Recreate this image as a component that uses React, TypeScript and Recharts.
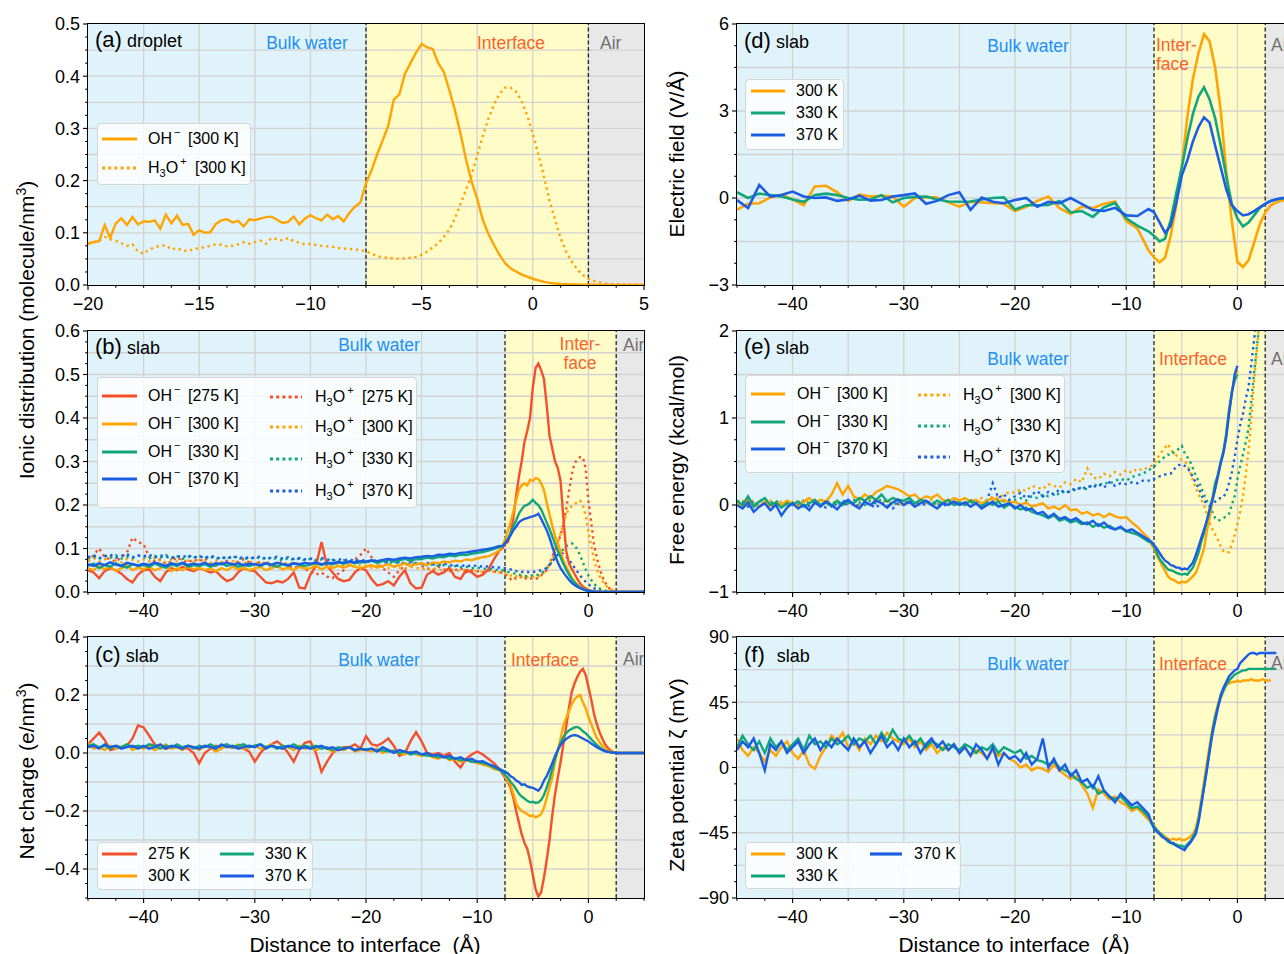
import React from 'react';
import { LineChart, Line, XAxis, YAxis, ReferenceArea, ReferenceLine } from 'recharts';

const RED = '#f4502c';
const ORANGE = '#ffa400';
const GREEN = '#12a77a';
const BLUE = '#1b5ee4';
const BULK_BG = '#e0f3fa';
const IFACE_BG = '#fffcc8';
const AIR_BG = '#e8e8e8';
const GRID = '#d2d2d2';
const BULK_TXT = '#1e8ff5';
const IFACE_TXT = '#f9632a';
const AIR_TXT = '#707070';
const FONT = '"Liberation Sans", Arial, Helvetica, sans-serif';

const seq = (start: number, step: number, n: number) =>
  Array.from({ length: n }, (_, i) => +(start + i * step).toFixed(6));

// sample positions (Å)
const DROP_X = seq(-20, 0.25, 101);
const SLAB_X = [...seq(-45, 0.5, 75), ...seq(-7.75, 0.25, 52)];
const FIELD_X = [...seq(-45, 1, 38), ...seq(-7.5, 0.5, 26)];

// ---------- (a) droplet, ionic distribution ----------
const DROP_OH_300 = [
  0.080, 0.082, 0.084, 0.115, 0.090, 0.118, 0.128, 0.115, 0.130, 0.116, 0.122, 0.121,
  0.124, 0.108, 0.135, 0.118, 0.133, 0.115, 0.117, 0.096, 0.105, 0.100, 0.101, 0.117,
  0.124, 0.126, 0.120, 0.123, 0.112, 0.126, 0.124, 0.127, 0.130, 0.131, 0.125, 0.119,
  0.121, 0.131, 0.116, 0.127, 0.134, 0.128, 0.124, 0.135, 0.126, 0.132, 0.122, 0.138,
  0.150, 0.158, 0.195, 0.220, 0.250, 0.277, 0.305, 0.355, 0.365, 0.405, 0.425, 0.445,
  0.462, 0.455, 0.452, 0.425, 0.408, 0.373, 0.335, 0.290, 0.240, 0.198, 0.165, 0.125,
  0.098, 0.077, 0.058, 0.042, 0.032, 0.026, 0.020, 0.016, 0.012, 0.009, 0.006, 0.004,
  0.003, 0.002, 0.0015, 0.001, 0.001, 0.0008, 0.0005, 0.0004, 0.0003, 0.0002, 0.0001, 0.0001,
  0, 0, 0, 0, 0,
];
const DROP_H3O_300 = [
  0.078, 0.082, 0.085, 0.092, 0.088, 0.085, 0.080, 0.075, 0.078, 0.064, 0.060, 0.068,
  0.072, 0.075, 0.076, 0.068, 0.071, 0.066, 0.065, 0.069, 0.070, 0.073, 0.075, 0.078,
  0.077, 0.074, 0.075, 0.078, 0.082, 0.079, 0.082, 0.085, 0.079, 0.090, 0.088, 0.085,
  0.090, 0.084, 0.081, 0.078, 0.079, 0.077, 0.075, 0.074, 0.073, 0.071, 0.070, 0.069,
  0.068, 0.067, 0.064, 0.060, 0.055, 0.053, 0.052, 0.051, 0.050, 0.051, 0.052, 0.054,
  0.058, 0.064, 0.072, 0.080, 0.092, 0.106, 0.128, 0.155, 0.183, 0.210, 0.248, 0.285,
  0.318, 0.345, 0.366, 0.378, 0.378, 0.370, 0.352, 0.325, 0.290, 0.250, 0.208, 0.162,
  0.125, 0.090, 0.064, 0.045, 0.030, 0.019, 0.012, 0.008, 0.005, 0.003, 0.002, 0.0015,
  0.001, 0.001, 0.0005, 0.0005, 0,
];

// ---------- (b) slab, ionic distribution ----------
const SLAB_OH_275 = [
  0.05, 0.045, 0.032, 0.048, 0.055, 0.05, 0.042, 0.03, 0.022, 0.04,
  0.05, 0.052, 0.035, 0.025, 0.045, 0.055, 0.05, 0.058, 0.052, 0.048,
  0.055, 0.05, 0.045, 0.048, 0.035, 0.025, 0.03, 0.045, 0.055, 0.05,
  0.048, 0.035, 0.022, 0.02, 0.025, 0.022, 0.03, 0.045, 0.01, 0.008,
  0.04, 0.06, 0.115, 0.06, 0.045, 0.03, 0.025, 0.028, 0.045, 0.055,
  0.05, 0.03, 0.015, 0.018, 0.025, 0.015, 0.035, 0.05, 0.02, 0.008,
  0.01, 0.04, 0.048, 0.04, 0.045, 0.055, 0.035, 0.03, 0.05, 0.045,
  0.035, 0.04, 0.052, 0.075, 0.095,
  0.10, 0.11, 0.115,
  0.135, 0.17, 0.22, 0.265,
  0.30, 0.345, 0.37, 0.40,
  0.47, 0.515, 0.525, 0.51,
  0.49, 0.43, 0.36, 0.33,
  0.30, 0.285, 0.255, 0.17,
  0.095, 0.066, 0.053, 0.042,
  0.03, 0.02, 0.013, 0.008,
  0.005, 0.003, 0.002, 0.001,
  0.001, 0, 0, 0,
  0, 0, 0, 0,
  0, 0, 0, 0,
  0, 0, 0, 0,
  0,
];
const SLAB_OH_300 = [
  0.055, 0.05, 0.06, 0.052, 0.058, 0.048, 0.055, 0.062, 0.05, 0.056,
  0.052, 0.058, 0.05, 0.055, 0.06, 0.048, 0.054, 0.05, 0.058, 0.052,
  0.056, 0.05, 0.054, 0.048, 0.055, 0.05, 0.058, 0.052, 0.056, 0.05,
  0.054, 0.058, 0.05, 0.055, 0.06, 0.052, 0.056, 0.05, 0.058, 0.054,
  0.055, 0.06, 0.052, 0.058, 0.055, 0.06, 0.056, 0.062, 0.058, 0.055,
  0.058, 0.062, 0.056, 0.06, 0.064, 0.058, 0.062, 0.066, 0.06, 0.064,
  0.066, 0.062, 0.068, 0.066, 0.07, 0.068, 0.072, 0.07, 0.075, 0.073,
  0.077, 0.08, 0.082, 0.088, 0.095,
  0.105, 0.12, 0.14,
  0.16, 0.185, 0.21, 0.235,
  0.245, 0.25, 0.245, 0.258,
  0.255, 0.262, 0.26, 0.25,
  0.235, 0.205, 0.178, 0.152,
  0.128, 0.112, 0.092, 0.072,
  0.058, 0.045, 0.033, 0.024,
  0.017, 0.011, 0.008, 0.005,
  0.004, 0.002, 0.001, 0.001,
  0, 0, 0, 0,
  0, 0, 0, 0,
  0, 0, 0, 0,
  0, 0, 0, 0,
  0,
];
const SLAB_OH_330 = [
  0.06, 0.065, 0.055, 0.062, 0.058, 0.066, 0.06, 0.056, 0.064, 0.06,
  0.062, 0.058, 0.065, 0.06, 0.056, 0.063, 0.06, 0.066, 0.058, 0.062,
  0.06, 0.064, 0.058, 0.062, 0.066, 0.06, 0.064, 0.058, 0.062, 0.06,
  0.064, 0.06, 0.066, 0.062, 0.058, 0.064, 0.06, 0.066, 0.062, 0.06,
  0.063, 0.067, 0.062, 0.066, 0.064, 0.068, 0.065, 0.07, 0.066, 0.068,
  0.068, 0.072, 0.067, 0.071, 0.074, 0.07, 0.073, 0.076, 0.072, 0.075,
  0.076, 0.079, 0.077, 0.081, 0.08, 0.084, 0.082, 0.086, 0.085, 0.088,
  0.09, 0.092, 0.095, 0.099, 0.103,
  0.105, 0.112, 0.122,
  0.135, 0.15, 0.165, 0.18,
  0.19, 0.198, 0.2, 0.205,
  0.212, 0.205, 0.2, 0.19,
  0.175, 0.16, 0.145, 0.128,
  0.11, 0.095, 0.08, 0.065,
  0.052, 0.04, 0.03, 0.022,
  0.016, 0.01, 0.007, 0.004,
  0.003, 0.002, 0.001, 0,
  0, 0, 0, 0,
  0, 0, 0, 0,
  0, 0, 0, 0,
  0, 0, 0, 0,
  0,
];
const SLAB_OH_370 = [
  0.064, 0.06, 0.066, 0.062, 0.068, 0.063, 0.06, 0.067, 0.064, 0.061,
  0.065, 0.062, 0.068, 0.064, 0.06, 0.066, 0.063, 0.067, 0.062, 0.065,
  0.063, 0.067, 0.062, 0.066, 0.064, 0.068, 0.063, 0.066, 0.062, 0.065,
  0.064, 0.062, 0.066, 0.063, 0.067, 0.064, 0.062, 0.066, 0.064, 0.067,
  0.065, 0.068, 0.064, 0.067, 0.066, 0.069, 0.067, 0.07, 0.068, 0.071,
  0.07, 0.073, 0.071, 0.074, 0.076, 0.074, 0.077, 0.079, 0.077, 0.08,
  0.081, 0.083, 0.082, 0.086, 0.085, 0.088, 0.087, 0.09, 0.091, 0.093,
  0.095, 0.097, 0.099, 0.102, 0.106,
  0.105, 0.112, 0.12,
  0.13, 0.142, 0.15, 0.16,
  0.165, 0.168, 0.17, 0.172,
  0.174, 0.176, 0.18, 0.168,
  0.155, 0.142, 0.125, 0.105,
  0.085, 0.068, 0.055, 0.045,
  0.036, 0.028, 0.021, 0.016,
  0.012, 0.009, 0.006, 0.004,
  0.003, 0.002, 0.001, 0,
  0, 0, 0, 0,
  0, 0, 0, 0,
  0, 0, 0, 0,
  0, 0, 0, 0,
  0,
];
const SLAB_H3O_275 = [
  0.07, 0.085, 0.1, 0.08, 0.075, 0.07, 0.08, 0.09, 0.125, 0.115,
  0.11, 0.08, 0.07, 0.075, 0.065, 0.07, 0.08, 0.072, 0.068, 0.075,
  0.07, 0.078, 0.065, 0.06, 0.068, 0.072, 0.065, 0.07, 0.075, 0.068,
  0.062, 0.07, 0.065, 0.058, 0.063, 0.07, 0.06, 0.055, 0.06, 0.052,
  0.048, 0.04, 0.045, 0.035, 0.032, 0.042, 0.05, 0.065, 0.075, 0.085,
  0.1, 0.08, 0.065, 0.055, 0.045, 0.035, 0.05, 0.06, 0.07, 0.065,
  0.06, 0.055, 0.05, 0.058, 0.052, 0.048, 0.05, 0.055, 0.045, 0.05,
  0.048, 0.045, 0.05, 0.047, 0.045,
  0.045, 0.04, 0.038,
  0.03, 0.035, 0.03, 0.032,
  0.035, 0.03, 0.033, 0.03,
  0.032, 0.03, 0.033, 0.038,
  0.045, 0.05, 0.065, 0.08,
  0.098, 0.115, 0.13, 0.155,
  0.19, 0.23, 0.27, 0.295,
  0.305, 0.31, 0.31, 0.285,
  0.21, 0.16, 0.11, 0.08,
  0.055, 0.035, 0.022, 0.012,
  0.006, 0.003, 0.001, 0,
  0, 0, 0, 0,
  0, 0, 0, 0,
  0,
];
const SLAB_H3O_300 = [
  0.072, 0.078, 0.07, 0.075, 0.08, 0.072, 0.068, 0.076, 0.074, 0.07,
  0.075, 0.07, 0.078, 0.072, 0.068, 0.074, 0.07, 0.076, 0.072, 0.069,
  0.074, 0.07, 0.067, 0.072, 0.069, 0.065, 0.071, 0.068, 0.066, 0.07,
  0.068, 0.064, 0.069, 0.066, 0.062, 0.067, 0.064, 0.068, 0.063, 0.066,
  0.064, 0.06, 0.065, 0.062, 0.058, 0.063, 0.06, 0.064, 0.058, 0.062,
  0.06, 0.056, 0.061, 0.058, 0.055, 0.059, 0.056, 0.054, 0.058, 0.055,
  0.054, 0.05, 0.055, 0.052, 0.049, 0.053, 0.05, 0.048, 0.052, 0.049,
  0.048, 0.046, 0.049, 0.046, 0.045,
  0.045, 0.042, 0.04,
  0.038, 0.04, 0.036, 0.038,
  0.035, 0.037, 0.034, 0.036,
  0.035, 0.034, 0.036, 0.04,
  0.045, 0.052, 0.062, 0.075,
  0.092, 0.112, 0.135, 0.158,
  0.178, 0.19, 0.198, 0.203,
  0.205, 0.21, 0.2, 0.175,
  0.14, 0.105, 0.075, 0.052,
  0.037, 0.026, 0.017, 0.01,
  0.006, 0.003, 0.002, 0.001,
  0, 0, 0, 0,
  0, 0, 0, 0,
  0,
];
const SLAB_H3O_330 = [
  0.078, 0.082, 0.076, 0.083, 0.079, 0.085, 0.077, 0.081, 0.078, 0.084,
  0.08, 0.077, 0.083, 0.079, 0.085, 0.078, 0.082, 0.076, 0.081, 0.079,
  0.083, 0.078, 0.081, 0.076, 0.08, 0.077, 0.082, 0.078, 0.075, 0.079,
  0.077, 0.08, 0.075, 0.079, 0.076, 0.073, 0.078, 0.074, 0.077, 0.073,
  0.076, 0.072, 0.075, 0.071, 0.074, 0.07, 0.073, 0.069, 0.072, 0.068,
  0.07, 0.072, 0.068, 0.07, 0.066, 0.069, 0.065, 0.067, 0.063, 0.066,
  0.064, 0.061, 0.063, 0.06, 0.062, 0.058, 0.06, 0.057, 0.058, 0.055,
  0.056, 0.054, 0.053, 0.052, 0.05,
  0.05, 0.048, 0.046,
  0.045, 0.043, 0.042, 0.04,
  0.038, 0.037, 0.036, 0.037,
  0.038, 0.037, 0.04, 0.042,
  0.048, 0.055, 0.062, 0.07,
  0.078, 0.085, 0.09, 0.098,
  0.105, 0.11, 0.112, 0.108,
  0.098, 0.085, 0.068, 0.052,
  0.038, 0.028, 0.019, 0.013,
  0.008, 0.005, 0.003, 0.002,
  0.001, 0, 0, 0,
  0, 0, 0, 0,
  0, 0, 0, 0,
  0,
];
const SLAB_H3O_370 = [
  0.08, 0.085, 0.078, 0.082, 0.086, 0.079, 0.083, 0.087, 0.08, 0.084,
  0.082, 0.086, 0.079, 0.084, 0.081, 0.078, 0.083, 0.08, 0.085, 0.079,
  0.082, 0.078, 0.083, 0.08, 0.076, 0.081, 0.078, 0.082, 0.077, 0.08,
  0.078, 0.082, 0.076, 0.079, 0.081, 0.077, 0.08, 0.076, 0.078, 0.075,
  0.077, 0.074, 0.078, 0.075, 0.072, 0.076, 0.073, 0.075, 0.071, 0.074,
  0.072, 0.069, 0.073, 0.07, 0.068, 0.071, 0.068, 0.066, 0.069, 0.066,
  0.065, 0.067, 0.064, 0.062, 0.065, 0.062, 0.06, 0.062, 0.059, 0.061,
  0.06, 0.058, 0.059, 0.057, 0.056,
  0.055, 0.055, 0.053,
  0.052, 0.05, 0.048, 0.048,
  0.046, 0.047, 0.046, 0.045,
  0.046, 0.047, 0.048, 0.05,
  0.052, 0.055, 0.062, 0.07,
  0.078, 0.086, 0.09, 0.088,
  0.082, 0.074, 0.065, 0.056,
  0.047, 0.038, 0.03, 0.024,
  0.018, 0.013, 0.009, 0.006,
  0.004, 0.003, 0.002, 0.001,
  0, 0, 0, 0,
  0, 0, 0, 0,
  0, 0, 0, 0,
  0,
];

// ---------- (c) slab, net charge ----------
const CHG_275 = [
  0.03, 0.05, 0.07, 0.045, 0.01, 0.015, 0.02, 0.025, 0.05, 0.095,
  0.088, 0.06, 0.03, 0.02, 0.015, 0.02, 0.025, 0.018, 0.015, 0.0,
  -0.035, 0.0, 0.015, 0.025, 0.02, 0.022, 0.018, 0.02, 0.015, 0.005,
  -0.03, 0.0, 0.02, 0.03, 0.04, 0.025, 0.0, -0.03, 0.01, 0.035,
  0.04, 0.0, -0.065, -0.03, 0.0, 0.015, 0.02, 0.02, 0.03, 0.015,
  0.058, 0.03, 0.025, 0.035, 0.05, 0.025, -0.01, 0.0, 0.04, 0.072,
  0.04, 0.0, -0.005, 0.0, -0.01, 0.0, -0.03, -0.05, -0.02, -0.005,
  0.005, -0.005, -0.02, -0.035, -0.055,
  -0.07, -0.085, -0.1,
  -0.12, -0.154, -0.2, -0.24,
  -0.28, -0.31, -0.33, -0.37,
  -0.42, -0.47, -0.495, -0.48,
  -0.43, -0.37, -0.3, -0.215,
  -0.142, -0.085, -0.03, 0.03,
  0.09, 0.155, 0.21, 0.24,
  0.262, 0.28, 0.29, 0.27,
  0.228, 0.185, 0.135, 0.1,
  0.072, 0.05, 0.03, 0.018,
  0.008, 0.003, 0.001, 0,
  0, 0, 0, 0,
  0, 0, 0, 0,
  0,
];
const CHG_300 = [
  0.035, 0.015, 0.02, 0.01, 0.025, 0.015, 0.02, 0.03, 0.01, 0.02,
  0.015, 0.025, 0.01, 0.02, 0.03, 0.015, 0.02, 0.01, 0.025, 0.02,
  0.01, 0.025, 0.02, 0.005, 0.015, 0.025, 0.02, 0.03, 0.015, 0.02,
  0.025, 0.015, 0.02, 0.03, 0.015, 0.025, 0.02, 0.01, 0.025, 0.015,
  0.02, 0.01, 0.02, 0.015, 0.005, 0.015, 0.01, 0.02, 0.005, 0.01,
  0.01, 0.005, 0.015, 0.0, 0.01, 0.005, 0.0, -0.005, 0.005, -0.005,
  -0.01, -0.005, -0.015, -0.02, -0.01, -0.025, -0.02, -0.03, -0.025, -0.03,
  -0.035, -0.04, -0.045, -0.055, -0.06,
  -0.065, -0.08, -0.095,
  -0.11, -0.14, -0.175, -0.19,
  -0.2, -0.205, -0.21, -0.218,
  -0.215, -0.222, -0.218, -0.21,
  -0.19, -0.155, -0.12, -0.085,
  -0.03, 0.01, 0.05, 0.095,
  0.12, 0.145, 0.168, 0.185,
  0.195, 0.2, 0.175, 0.155,
  0.125, 0.1, 0.075, 0.052,
  0.038, 0.025, 0.015, 0.008,
  0.004, 0.002, 0.001, 0,
  0, 0, 0, 0,
  0, 0, 0, 0,
  0,
];
const CHG_330 = [
  0.025, 0.03, 0.02, 0.025, 0.015, 0.025, 0.02, 0.03, 0.02, 0.025,
  0.02, 0.03, 0.025, 0.015, 0.025, 0.02, 0.03, 0.02, 0.025, 0.015,
  0.025, 0.02, 0.03, 0.02, 0.025, 0.03, 0.02, 0.025, 0.03, 0.02,
  0.025, 0.03, 0.02, 0.025, 0.015, 0.025, 0.02, 0.03, 0.02, 0.025,
  0.02, 0.025, 0.015, 0.02, 0.01, 0.02, 0.015, 0.02, 0.01, 0.015,
  0.012, 0.015, 0.008, 0.01, 0.005, 0.008, 0.0, 0.005, -0.005, 0.0,
  -0.005, -0.01, -0.008, -0.015, -0.012, -0.02, -0.018, -0.025, -0.022, -0.03,
  -0.03, -0.035, -0.04, -0.05, -0.058,
  -0.065, -0.075, -0.085,
  -0.1, -0.11, -0.125, -0.14,
  -0.15, -0.157, -0.165, -0.17,
  -0.168, -0.172, -0.17, -0.162,
  -0.145, -0.12, -0.09, -0.055,
  -0.02, 0.01, 0.035, 0.055,
  0.068, 0.078, 0.083, 0.088,
  0.09, 0.085, 0.075, 0.068,
  0.058, 0.048, 0.038, 0.028,
  0.02, 0.013, 0.008, 0.005,
  0.002, 0.001, 0, 0,
  0, 0, 0, 0,
  0, 0, 0, 0,
  0,
];
const CHG_370 = [
  0.02, 0.025, 0.015, 0.03, 0.02, 0.025, 0.015, 0.02, 0.025, 0.015,
  0.025, 0.015, 0.02, 0.03, 0.015, 0.025, 0.02, 0.015, 0.025, 0.02,
  0.015, 0.025, 0.02, 0.015, 0.03, 0.02, 0.025, 0.015, 0.02, 0.025,
  0.02, 0.03, 0.015, 0.025, 0.02, 0.015, 0.025, 0.02, 0.015, 0.02,
  0.015, 0.02, 0.025, 0.015, 0.02, 0.01, 0.015, 0.02, 0.01, 0.015,
  0.01, 0.015, 0.005, 0.02, 0.01, 0.0, 0.01, 0.005, 0.0, 0.005,
  -0.005, 0.0, -0.01, -0.005, -0.015, -0.01, -0.02, -0.015, -0.025, -0.02,
  -0.03, -0.028, -0.038, -0.045, -0.055,
  -0.06, -0.065, -0.07,
  -0.08, -0.085, -0.095, -0.1,
  -0.11, -0.108, -0.115, -0.118,
  -0.12, -0.125, -0.13, -0.118,
  -0.095, -0.08, -0.058, -0.035,
  -0.01, 0.01, 0.028, 0.04,
  0.048, 0.055, 0.06, 0.062,
  0.06, 0.055, 0.05, 0.045,
  0.04, 0.033, 0.027, 0.02,
  0.015, 0.01, 0.006, 0.004,
  0.002, 0.001, 0, 0,
  0, 0, 0, 0,
  0, 0, 0, 0,
  0,
];

// ---------- (d) slab, electric field ----------
const FIELD_300 = [
  -0.4, -0.2, -0.18, 0.02, 0.12, -0.05, -0.25, 0.4, 0.42, 0.2,
  -0.1, 0.12, 0.05, 0.08, 0.05, -0.3, 0.0, 0.03, 0.02, -0.15,
  -0.3, -0.13, -0.15, -0.18, -0.2, -0.45, -0.3, -0.1, 0.05, -0.35,
  -0.55, -0.3, -0.35, -0.2, -0.12, -0.8, -1.05, -1.8,
  -2.05, -2.22, -2.05, -1.3, -0.25, 1.1, 2.8, 4.1, 5.0, 5.65,
  5.4, 4.5, 3.0, 0.9, -0.8, -2.2, -2.38, -2.15, -1.55, -0.92,
  -0.5, -0.25, -0.15, -0.09, -0.06, -0.05,
];
const FIELD_330 = [
  0.2, 0.0, 0.15, 0.1, 0.05, -0.05, -0.13, 0.1, 0.15, 0.1,
  0.0, -0.06, -0.05, 0.1, -0.15, 0.0, 0.04, 0.05, -0.05, -0.12,
  -0.13, -0.12, -0.05, 0.0, 0.02, -0.4, -0.25, -0.25, -0.24, -0.1,
  -0.5, -0.45, -0.65, -0.32, -0.17, -0.7, -0.95, -1.15,
  -1.3, -1.5, -1.4, -0.76, 0.16, 1.05, 2.05, 2.9, 3.5, 3.82,
  3.4, 2.75, 1.8, 0.75, -0.21, -0.7, -0.98, -0.85, -0.6, -0.35,
  -0.2, -0.1, -0.05, -0.02, 0.0, 0.0,
];
const FIELD_370 = [
  -0.07, -0.35, 0.45, 0.05, 0.1, 0.22, 0.05, 0.0, 0.02, -0.1,
  -0.05, 0.08, -0.09, -0.07, 0.05, 0.1, 0.16, -0.2, -0.1, 0.1,
  0.2, -0.41, 0.02, -0.13, -0.18, -0.07, 0.0, -0.3, -0.13, -0.18,
  0.0, -0.2, -0.41, -0.45, -0.34, -0.6, -0.62, -0.38,
  -0.49, -0.84, -1.2, -0.95, -0.18, 0.78, 1.3, 1.95, 2.45, 2.78,
  2.6, 1.8, 1.05, 0.3, -0.25, -0.45, -0.6, -0.56, -0.45, -0.32,
  -0.2, -0.1, -0.04, 0.0, 0.0, 0.0,
];

// ---------- (e) slab, free energy ----------
const FE_OH_300 = [
  0.02, -0.03, 0.05, 0.0, -0.02, 0.04, -0.01, 0.03, 0.0, 0.05,
  0.02, -0.02, 0.04, 0.08, 0.02, 0.06, 0.04, 0.12, 0.25, 0.12,
  0.22, 0.1, 0.06, 0.12, 0.08, 0.15, 0.18, 0.22, 0.2, 0.18,
  0.14, 0.1, 0.12, 0.06, 0.1, 0.08, 0.12, 0.06, 0.04, 0.08,
  0.05, 0.08, 0.04, 0.06, 0.02, 0.05, 0.08, 0.04, 0.06, 0.02,
  0.04, 0.0, 0.03, -0.02, 0.0, 0.02, -0.04, -0.02, -0.05, 0.0,
  -0.06, -0.05, -0.1, -0.08, -0.12, -0.1, -0.14, -0.1, -0.13, -0.15,
  -0.14, -0.2, -0.25, -0.32, -0.38,
  -0.45, -0.5, -0.58,
  -0.64, -0.7, -0.76, -0.82,
  -0.85, -0.86, -0.88, -0.9,
  -0.88, -0.89, -0.88, -0.85,
  -0.82, -0.78, -0.7, -0.6,
  -0.5, -0.3, -0.15, 0.05,
  0.2, 0.32, 0.48, 0.62,
  0.82, 1.05, 1.3, 1.45,
  1.55,
];
const FE_OH_330 = [
  0.05, 0.0, 0.1, -0.02, 0.04, 0.08, 0.0, 0.03, -0.03, 0.02,
  0.0, 0.04, -0.02, 0.02, 0.06, 0.0, 0.03, -0.02, 0.05, 0.0,
  0.04, 0.02, 0.08, 0.05, 0.1, 0.06, 0.12, 0.04, 0.08, 0.06,
  0.05, 0.08, 0.02, 0.06, 0.04, 0.0, 0.05, 0.02, 0.06, 0.0,
  0.03, 0.0, 0.05, 0.02, -0.02, 0.03, 0.0, 0.04, -0.03, 0.01,
  -0.02, -0.05, -0.03, -0.08, -0.1, -0.12, -0.15, -0.12, -0.18, -0.16,
  -0.2, -0.18, -0.22, -0.2, -0.25, -0.22, -0.26, -0.24, -0.28, -0.26,
  -0.3, -0.32, -0.34, -0.38, -0.42,
  -0.43, -0.47, -0.55,
  -0.62, -0.66, -0.7, -0.74,
  -0.75, -0.76, -0.78, -0.79,
  -0.8, -0.79, -0.8, -0.76,
  -0.72, -0.64, -0.55, -0.42,
  -0.32, -0.18, -0.05, 0.08,
  0.25, 0.35, 0.5, 0.62,
  0.82, 1.1, 1.3, 1.43,
  1.5,
];
const FE_OH_370 = [
  0.0, -0.04, 0.03, -0.08, -0.02, 0.02, -0.06, 0.0, -0.12, -0.03,
  0.02, -0.04, 0.0, -0.06, 0.03, -0.02, 0.04, 0.0, -0.05, 0.02,
  0.06, 0.0, -0.04, 0.04, 0.0, 0.05, 0.02, -0.03, 0.03, 0.06,
  0.0, 0.04, -0.02, 0.02, 0.05, 0.0, -0.04, 0.02, 0.0, 0.04,
  0.0, 0.03, -0.02, 0.02, -0.04, 0.0, 0.04, -0.02, 0.0, 0.02,
  -0.04, 0.0, -0.06, -0.04, -0.1, -0.08, -0.14, -0.1, -0.16, -0.14,
  -0.18, -0.15, -0.2, -0.22, -0.18, -0.24, -0.2, -0.26, -0.28, -0.25,
  -0.3, -0.28, -0.32, -0.36, -0.4,
  -0.42, -0.46, -0.5,
  -0.55, -0.6, -0.64, -0.66,
  -0.69, -0.7, -0.72, -0.72,
  -0.74, -0.73, -0.74, -0.7,
  -0.66, -0.58, -0.48, -0.38,
  -0.28, -0.18, -0.06, 0.05,
  0.18, 0.34, 0.48, 0.6,
  0.78, 1.05, 1.28, 1.5,
  1.6,
];
const FE_H3O_300 = [
  0.02, 0.05, 0.0, 0.06, -0.02, 0.03, 0.05, 0.0, 0.04, 0.02,
  0.0, 0.05, 0.02, 0.06, 0.03, 0.0, 0.04, 0.02, 0.05, 0.0,
  0.02, 0.06, 0.0, 0.04, 0.08, 0.03, 0.06, 0.02, 0.05, 0.0,
  0.03, 0.05, 0.0, 0.04, 0.02, 0.06, 0.0, 0.03, 0.05, 0.02,
  0.04, 0.0, 0.06, 0.02, 0.08, 0.05, 0.1, 0.08, 0.12, 0.15,
  0.14, 0.18, 0.16, 0.22, 0.2, 0.18, 0.24, 0.22, 0.2, 0.26,
  0.24, 0.3, 0.26, 0.42, 0.32, 0.3, 0.36, 0.33, 0.38, 0.35,
  0.4, 0.37, 0.42, 0.4, 0.44,
  0.45, 0.47, 0.52,
  0.58, 0.62, 0.66, 0.7,
  0.64, 0.6, 0.57, 0.55,
  0.52, 0.5, 0.47, 0.38,
  0.28, 0.2, 0.12, 0.06,
  0.0, -0.1, -0.2, -0.28,
  -0.34, -0.4, -0.48, -0.53,
  -0.55, -0.54, -0.45, -0.35,
  -0.22, -0.07, 0.1, 0.35,
  0.62, 1.0, 1.42, 1.78,
  2.15,
];
const FE_H3O_330 = [
  0.05, 0.02, 0.08, 0.0, 0.04, 0.06, 0.02, 0.05, 0.0, 0.04,
  0.03, 0.0, 0.05, 0.02, 0.06, 0.0, 0.04, 0.03, 0.0, 0.05,
  0.02, 0.06, 0.03, 0.0, 0.05, 0.02, 0.07, 0.04, 0.0, 0.03,
  0.05, 0.02, 0.0, 0.04, 0.02, 0.05, 0.0, 0.03, 0.01, 0.04,
  0.0, 0.03, 0.02, 0.05, 0.0, 0.04, 0.02, 0.06, 0.04, 0.05,
  0.06, 0.08, 0.05, 0.1, 0.08, 0.12, 0.1, 0.14, 0.12, 0.16,
  0.15, 0.18, 0.2, 0.18, 0.24, 0.22, 0.26, 0.24, 0.28, 0.3,
  0.28, 0.32, 0.34, 0.36, 0.4,
  0.42, 0.44, 0.47,
  0.5, 0.53, 0.56, 0.58,
  0.57, 0.6, 0.62, 0.65,
  0.68, 0.6, 0.55, 0.5,
  0.42, 0.34, 0.28, 0.2,
  0.12, 0.05, -0.02, -0.08,
  -0.15, -0.18, -0.17, -0.15,
  -0.13, -0.1, 0.0, 0.1,
  0.3, 0.45, 0.58, 0.72,
  0.88, 1.2, 1.52, 1.82,
  2.1,
];
const FE_H3O_370 = [
  0.0, 0.03, -0.02, 0.04, 0.0, 0.02, -0.03, 0.03, 0.0, -0.02,
  0.02, 0.0, 0.04, -0.01, 0.02, 0.0, -0.03, 0.02, 0.0, 0.03,
  0.0, 0.02, -0.02, 0.03, 0.0, -0.03, 0.02, 0.0, -0.04, 0.02,
  0.0, 0.03, -0.02, 0.02, 0.0, 0.04, 0.0, -0.02, 0.03, 0.0,
  0.02, 0.0, 0.05, 0.02, 0.0, 0.06, 0.25, 0.08, 0.12, 0.06,
  0.1, 0.14, 0.08, 0.12, 0.16, 0.1, 0.15, 0.12, 0.18, 0.14,
  0.16, 0.2, 0.18, 0.22, 0.2, 0.24, 0.2, 0.26, 0.22, 0.25,
  0.24, 0.26, 0.25, 0.28, 0.28,
  0.28, 0.3, 0.32,
  0.33, 0.34, 0.35, 0.35,
  0.36, 0.4, 0.44, 0.46,
  0.47, 0.45, 0.43, 0.38,
  0.32, 0.26, 0.2, 0.12,
  0.05, 0.02, 0.0, 0.01,
  0.04, 0.07, 0.08, 0.09,
  0.15, 0.25, 0.38, 0.55,
  0.75, 0.92, 1.05, 1.22,
  1.35, 1.62, 1.9, 2.15,
];

// ---------- (f) slab, zeta potential ----------
const ZETA_300 = [
  20, 12, 8, 14, 10, 4, 12, 8, 14, 18,
  10, 6, 12, 2, -1, 8, 14, 22, 18, 24,
  14, 18, 12, 20, 16, 22, 18, 24, 20, 18,
  16, 20, 14, 18, 12, 16, 10, 14, 12, 16,
  10, 14, 8, 12, 10, 6, 12, 8, 10, 6,
  4, 0, 2, -2, 0, -1, -3, 2, -2, -5,
  -8, -6, -12, -18, -28, -15, -18, -22, -20, -24,
  -26, -30, -28, -32, -36,
  -38, -40, -43,
  -45, -46, -48, -49,
  -50, -49, -50, -49,
  -50, -50, -49, -48,
  -46, -42, -34, -22,
  -10, 3, 15, 27,
  36, 44, 50, 54,
  57, 58, 59, 59,
  60, 59, 60, 60,
  60, 61, 60, 60,
  60, 61, 60, 60,
  60,
];
const ZETA_330 = [
  14, 22, 16, 12, 18, 10, 20, 14, 18, 12,
  16, 20, 12, 22, 16, 18, 14, 20, 16, 18,
  22, 16, 20, 18, 22, 16, 24, 18, 26, 20,
  18, 22, 16, 20, 14, 18, 16, 12, 16, 14,
  12, 16, 14, 10, 14, 12, 16, 10, 14, 12,
  10, 12, 6, 8, 5, 4, 2, 4, 0, -2,
  -4, -8, -10, -14, -12, -18, -16, -20, -22, -20,
  -24, -28, -27, -30, -34,
  -37, -41, -43,
  -45, -47, -49, -51,
  -52, -53, -53, -54,
  -54, -55, -53, -51,
  -48, -44, -36, -25,
  -13, -1, 12, 25,
  35, 42, 48, 53,
  57, 60, 62, 64,
  65, 66, 67, 67,
  68, 68, 68, 68,
  68, 68, 68, 68,
  68, 68, 68,
];
const ZETA_370 = [
  12, 18, 14, 20, 10, -2, 16, 12, 18, 10,
  14, 18, 10, 16, 20, 12, 18, 14, 20, 16,
  12, 20, 14, 18, 10, 16, 22, 14, 18, 12,
  20, 14, 18, 10, 16, 20, 14, 18, 12, 16,
  10, 14, 8, 16, 12, 6, 14, 2, 10, 6,
  8, 4, 10, 2, 6, 20, 0, 6, -2, 2,
  -6, -2, -10, -8, -14, -6, -16, -20, -24, -18,
  -22, -26, -24, -28, -32,
  -38, -42, -44,
  -46, -48, -49, -50,
  -52, -52, -54, -55,
  -56, -57, -54, -52,
  -49, -46, -38, -26,
  -14, -2, 11, 23,
  32, 41, 50, 55,
  59, 63, 65, 67,
  68, 72, 74, 76,
  78, 79, 79, 78,
  79, 79, 79, 79,
  79, 79, 79,
];

// ---------- axis tick values ----------
const X_MAJOR_DROP = [-20, -15, -10, -5, 0, 5];
const X_MAJOR_SLAB = [-40, -30, -20, -10, 0];
const Y_MAJOR_A = [0, 0.1, 0.2, 0.3, 0.4, 0.5];
const Y_MAJOR_B = [0, 0.1, 0.2, 0.3, 0.4, 0.5, 0.6];
const Y_MAJOR_C = [-0.4, -0.2, 0, 0.2, 0.4];
const Y_MAJOR_D = [-3, 0, 3, 6];
const Y_MAJOR_E = [-1, 0, 1, 2];
const Y_MAJOR_F = [-90, -45, 0, 45, 90];

type Series = { key: string; color: string; values: number[]; dotted?: boolean; width?: number };

type PanelProps = {
  left: number;
  top: number;
  xs: number[];
  series: Series[];
  xDomain: [number, number];
  xMajor: number[];
  xMinor: number[];
  xGrid: number[];
  yDomain: [number, number];
  yMajor: number[];
  yMinor: number[];
  yGrid: number[];
  yDigits: number;
};

const W = 556;
const H = 261;
const PAD_L = 60;
const PAD_T = 10;
const PAD_R = 12;
const AX_H = 32;

const minus = (s: string) => s.replace('-', '\u2212');
const fmt = (v: number, d: number) => minus((Math.abs(v) < 1e-9 ? 0 : v).toFixed(d));
const has = (list: number[], v: number) => list.some((m) => Math.abs(m - v) < 1e-6);

function buildRows(xs: number[], series: Series[]) {
  return xs.map((x, i) => {
    const row: Record<string, number | null> = { x };
    series.forEach((s) => {
      const v = s.values[i];
      row[s.key] = v === undefined ? null : v;
    });
    return row;
  });
}

function Panel(p: PanelProps) {
  const data = buildRows(p.xs, p.series);
  const xTick = (props: any) => {
    const { x, y, payload } = props;
    const major = has(p.xMajor, payload.value);
    return (
      <g>
        <line x1={x} x2={x} y1={y} y2={y + (major ? 5 : 2.8)} stroke="#000" strokeWidth={1.1} />
        {major && (
          <text x={x} y={y + 25} textAnchor="middle" fontSize={18} fontFamily={FONT} fill="#000">
            {fmt(payload.value, 0)}
          </text>
        )}
      </g>
    );
  };
  const yTick = (props: any) => {
    const { x, y, payload } = props;
    const major = has(p.yMajor, payload.value);
    return (
      <g>
        <line x1={x - (major ? 5 : 2.8)} x2={x} y1={y} y2={y} stroke="#000" strokeWidth={1.1} />
        {major && (
          <text x={x - 8} y={y} dy="0.36em" textAnchor="end" fontSize={18} fontFamily={FONT} fill="#000">
            {fmt(payload.value, p.yDigits)}
          </text>
        )}
      </g>
    );
  };
  const [x0, x1] = p.xDomain;
  return (
    <>
      <div style={{ position: 'absolute', left: p.left - PAD_L, top: p.top - PAD_T }}>
        <LineChart
          width={PAD_L + W + PAD_R}
          height={PAD_T + H + AX_H}
          data={data}
          margin={{ top: PAD_T, right: PAD_R, bottom: 0, left: 0 }}
        >
          <XAxis
            dataKey="x"
            type="number"
            domain={p.xDomain}
            ticks={p.xMinor}
            interval={0}
            allowDataOverflow
            axisLine={false}
            tickLine={false}
            tickSize={0}
            tickMargin={0}
            height={AX_H}
            tick={xTick}
          />
          <YAxis
            type="number"
            domain={p.yDomain}
            ticks={p.yMinor}
            interval={0}
            allowDataOverflow
            axisLine={false}
            tickLine={false}
            tickSize={0}
            tickMargin={0}
            width={PAD_L}
            tick={yTick}
          />
          <ReferenceArea x1={x0} x2={-7.5} fill={BULK_BG} fillOpacity={1} stroke="none" zIndex={10} />
          <ReferenceArea x1={-7.5} x2={2.5} fill={IFACE_BG} fillOpacity={1} stroke="none" zIndex={10} />
          <ReferenceArea x1={2.5} x2={x1} fill={AIR_BG} fillOpacity={1} stroke="none" zIndex={10} />
          {p.xGrid.map((v) => (
            <ReferenceLine key={'gx' + v} x={v} stroke={GRID} strokeWidth={1.3} zIndex={20} />
          ))}
          {p.yGrid.map((v) => (
            <ReferenceLine key={'gy' + v} y={v} stroke={GRID} strokeWidth={1.3} zIndex={20} />
          ))}
          <ReferenceLine x={-7.5} stroke="#222" strokeWidth={1.3} strokeDasharray="4 2.5" zIndex={30} />
          <ReferenceLine x={2.5} stroke="#222" strokeWidth={1.3} strokeDasharray="4 2.5" zIndex={30} />
          {p.series.map((s) => (
            <Line
              key={s.key}
              dataKey={s.key}
              type="linear"
              stroke={s.color}
              strokeWidth={s.width ?? 2.4}
              strokeDasharray={s.dotted ? '2.4 3.6' : undefined}
              dot={false}
              activeDot={false}
              connectNulls={false}
              isAnimationActive={false}
            />
          ))}
        </LineChart>
      </div>
      <div
        style={{
          position: 'absolute',
          left: p.left - 0.6,
          top: p.top - 0.6,
          width: W + 1.2,
          height: H + 1.2,
          border: '1.2px solid #000',
          boxSizing: 'border-box',
          pointerEvents: 'none',
        }}
      />
    </>
  );
}

type Spot = { x: number; y: number; center?: boolean };

function Txt({ x, y, center, color, size, children }: Spot & { color: string; size: number; children: React.ReactNode }) {
  return (
    <div
      style={{
        position: 'absolute',
        left: x,
        top: y,
        transform: center ? 'translate(-50%, -50%)' : 'translateY(-50%)',
        color,
        fontSize: size,
        lineHeight: 1,
        whiteSpace: 'pre',
        textAlign: center ? 'center' : 'left',
      }}
    >
      {children}
    </div>
  );
}

function PanelTag({ x, y, tag, word, gap = 5 }: { x: number; y: number; tag: string; word: string; gap?: number }) {
  return (
    <div style={{ position: 'absolute', left: x, top: y, transform: 'translateY(-50%)', lineHeight: 1, whiteSpace: 'nowrap', color: '#000' }}>
      <span style={{ fontSize: 22 }}>{tag}</span>
      <span style={{ fontSize: 18, marginLeft: gap }}>{word}</span>
    </div>
  );
}

function VTitle({ x, y, children }: { x: number; y: number; children: React.ReactNode }) {
  return (
    <div
      style={{
        position: 'absolute',
        left: x,
        top: y,
        transform: 'translate(-50%, -50%) rotate(-90deg)',
        fontSize: 21,
        lineHeight: 1,
        whiteSpace: 'nowrap',
        color: '#000',
      }}
    >
      {children}
    </div>
  );
}

type LegendItem = { x1: number; x2: number; y: number; tx: number; color: string; dotted?: boolean; species?: 'OH' | 'H3O'; temp: string };

const supStyle: React.CSSProperties = { fontSize: 11, position: 'relative', top: -8, marginLeft: 2 };
const subStyle: React.CSSProperties = { fontSize: 11, position: 'relative', top: 4 };

function LegendBox({ x, y, w, h, items }: { x: number; y: number; w: number; h: number; items: LegendItem[] }) {
  return (
    <div
      style={{
        position: 'absolute',
        left: x,
        top: y,
        width: w,
        height: h,
        background: 'rgba(255,255,255,0.82)',
        border: '1px solid #d6d6d6',
        borderRadius: 4,
        boxSizing: 'border-box',
        fontSize: 16,
        color: '#000',
      }}
    >
      <svg width={w} height={h} style={{ position: 'absolute', left: -1, top: -1 }}>
        {items.map((it, i) => (
          <line
            key={i}
            x1={it.x1 - x}
            x2={it.x2 - x}
            y1={it.y - y}
            y2={it.y - y}
            stroke={it.color}
            strokeWidth={3.2}
            strokeDasharray={it.dotted ? '3 3.2' : undefined}
          />
        ))}
      </svg>
      {items.map((it, i) => {
        const off = it.species === 'OH' ? 40 : it.species === 'H3O' ? 47 : 0;
        return (
          <React.Fragment key={i}>
            {it.species && (
              <div style={{ position: 'absolute', left: it.tx - x - 1, top: it.y - y - 1, transform: 'translateY(-50%)', lineHeight: '18px', whiteSpace: 'nowrap' }}>
                {it.species === 'OH' ? (
                  <>
                    OH<span style={supStyle}>−</span>
                  </>
                ) : (
                  <>
                    H<span style={subStyle}>3</span>O<span style={supStyle}>+</span>
                  </>
                )}
              </div>
            )}
            <div style={{ position: 'absolute', left: it.tx + off - x - 1, top: it.y - y - 1, transform: 'translateY(-50%)', lineHeight: '18px', whiteSpace: 'nowrap' }}>
              {it.species ? `[${it.temp}]` : it.temp}
            </div>
          </React.Fragment>
        );
      })}
    </div>
  );
}

const LX = 88;
const RX = 737;
const ROW = [24, 331, 637];

export default function App() {
  const slabX = { xDomain: [-45, 5] as [number, number], xMajor: X_MAJOR_SLAB, xMinor: seq(-45, 2.5, 21), xGrid: seq(-40, 5, 9) };
  return (
    <div style={{ position: 'relative', width: 1284, height: 954, overflow: 'hidden', background: '#fff', fontFamily: FONT }}>
      <style>{'body{margin:0}'}</style>

      {/* (a) */}
      <Panel
        left={LX}
        top={ROW[0]}
        xs={DROP_X}
        series={[
          { key: 'oh300', color: ORANGE, values: DROP_OH_300 },
          { key: 'h3o300', color: ORANGE, values: DROP_H3O_300, dotted: true },
        ]}
        xDomain={[-20, 5]}
        xMajor={X_MAJOR_DROP}
        xMinor={seq(-20, 1.25, 21)}
        xGrid={seq(-17.5, 2.5, 9)}
        yDomain={[0, 0.5]}
        yMajor={Y_MAJOR_A}
        yMinor={seq(0, 0.025, 21)}
        yGrid={seq(0.05, 0.05, 9)}
        yDigits={1}
      />
      {/* (b) */}
      <Panel
        left={LX}
        top={ROW[1]}
        xs={SLAB_X}
        series={[
          { key: 'h275', color: RED, values: SLAB_H3O_275, dotted: true },
          { key: 'h300', color: ORANGE, values: SLAB_H3O_300, dotted: true },
          { key: 'h330', color: GREEN, values: SLAB_H3O_330, dotted: true },
          { key: 'h370', color: BLUE, values: SLAB_H3O_370, dotted: true },
          { key: 'o275', color: RED, values: SLAB_OH_275 },
          { key: 'o300', color: ORANGE, values: SLAB_OH_300 },
          { key: 'o330', color: GREEN, values: SLAB_OH_330 },
          { key: 'o370', color: BLUE, values: SLAB_OH_370 },
        ]}
        {...slabX}
        yDomain={[0, 0.6]}
        yMajor={Y_MAJOR_B}
        yMinor={seq(0, 0.025, 25)}
        yGrid={seq(0.05, 0.05, 11)}
        yDigits={1}
      />
      {/* (c) */}
      <Panel
        left={LX}
        top={ROW[2]}
        xs={SLAB_X}
        series={[
          { key: 'c275', color: RED, values: CHG_275 },
          { key: 'c300', color: ORANGE, values: CHG_300 },
          { key: 'c330', color: GREEN, values: CHG_330 },
          { key: 'c370', color: BLUE, values: CHG_370 },
        ]}
        {...slabX}
        yDomain={[-0.5, 0.4]}
        yMajor={Y_MAJOR_C}
        yMinor={seq(-0.5, 0.05, 19)}
        yGrid={seq(-0.4, 0.1, 8)}
        yDigits={1}
      />
      {/* (d) */}
      <Panel
        left={RX}
        top={ROW[0]}
        xs={FIELD_X}
        series={[
          { key: 'e300', color: ORANGE, values: FIELD_300, width: 2.6 },
          { key: 'e330', color: GREEN, values: FIELD_330, width: 2.6 },
          { key: 'e370', color: BLUE, values: FIELD_370, width: 2.6 },
        ]}
        {...slabX}
        yDomain={[-3, 6]}
        yMajor={Y_MAJOR_D}
        yMinor={seq(-3, 0.75, 13)}
        yGrid={seq(-1.5, 1.5, 5)}
        yDigits={0}
      />
      {/* (e) */}
      <Panel
        left={RX}
        top={ROW[1]}
        xs={SLAB_X}
        series={[
          { key: 'fh300', color: ORANGE, values: FE_H3O_300, dotted: true },
          { key: 'fh330', color: GREEN, values: FE_H3O_330, dotted: true },
          { key: 'fh370', color: BLUE, values: FE_H3O_370, dotted: true },
          { key: 'fo300', color: ORANGE, values: FE_OH_300 },
          { key: 'fo330', color: GREEN, values: FE_OH_330 },
          { key: 'fo370', color: BLUE, values: FE_OH_370 },
        ]}
        {...slabX}
        yDomain={[-1, 2]}
        yMajor={Y_MAJOR_E}
        yMinor={seq(-1, 0.25, 13)}
        yGrid={seq(-0.5, 0.5, 5)}
        yDigits={0}
      />
      {/* (f) */}
      <Panel
        left={RX}
        top={ROW[2]}
        xs={SLAB_X}
        series={[
          { key: 'z300', color: ORANGE, values: ZETA_300 },
          { key: 'z330', color: GREEN, values: ZETA_330 },
          { key: 'z370', color: BLUE, values: ZETA_370 },
        ]}
        {...slabX}
        yDomain={[-90, 90]}
        yMajor={Y_MAJOR_F}
        yMinor={seq(-90, 11.25, 17)}
        yGrid={seq(-67.5, 22.5, 7)}
        yDigits={0}
      />

      {/* region labels */}
      <PanelTag x={95} y={40} tag="(a)" word="droplet" />
      <Txt x={307} y={44} center color={BULK_TXT} size={17.5}>Bulk water</Txt>
      <Txt x={511} y={44} center color={IFACE_TXT} size={17.5}>Interface</Txt>
      <Txt x={600} y={44} color={AIR_TXT} size={17.5}>Air</Txt>

      <PanelTag x={95} y={347} tag="(b)" word="slab" />
      <Txt x={379} y={346} center color={BULK_TXT} size={17.5}>Bulk water</Txt>
      <Txt x={580} y={354} center color={IFACE_TXT} size={17.5}>
        <div>Inter-</div>
        <div style={{ marginTop: 1 }}>face</div>
      </Txt>
      <Txt x={623} y={346} color={AIR_TXT} size={17.5}>Air</Txt>

      <PanelTag x={95} y={655} tag="(c)" word="slab" />
      <Txt x={379} y={661} center color={BULK_TXT} size={17.5}>Bulk water</Txt>
      <Txt x={545} y={661} center color={IFACE_TXT} size={17.5}>Interface</Txt>
      <Txt x={623} y={660} color={AIR_TXT} size={17.5}>Air</Txt>

      <PanelTag x={744} y={41} tag="(d)" word="slab" />
      <Txt x={1028} y={47} center color={BULK_TXT} size={17.5}>Bulk water</Txt>
      <Txt x={1156} y={55} color={IFACE_TXT} size={17.5}>
        <div>Inter-</div>
        <div style={{ marginTop: 1 }}>face</div>
      </Txt>
      <Txt x={1271} y={46} color={AIR_TXT} size={17.5}>Air</Txt>

      <PanelTag x={744} y={347} tag="(e)" word="slab" />
      <Txt x={1028} y={360} center color={BULK_TXT} size={17.5}>Bulk water</Txt>
      <Txt x={1193} y={360} center color={IFACE_TXT} size={17.5}>Interface</Txt>
      <Txt x={1271} y={360} color={AIR_TXT} size={17.5}>Air</Txt>

      <PanelTag x={744} y={655} tag="(f)" word="slab" gap={12} />
      <Txt x={1028} y={665} center color={BULK_TXT} size={17.5}>Bulk water</Txt>
      <Txt x={1193} y={665} center color={IFACE_TXT} size={17.5}>Interface</Txt>
      <Txt x={1271} y={664} color={AIR_TXT} size={17.5}>Air</Txt>

      {/* legends */}
      <LegendBox
        x={97}
        y={123}
        w={154}
        h={62}
        items={[
          { x1: 102, x2: 137, y: 139, tx: 148, color: ORANGE, species: 'OH', temp: '300 K' },
          { x1: 102, x2: 137, y: 168, tx: 148, color: ORANGE, dotted: true, species: 'H3O', temp: '300 K' },
        ]}
      />
      <LegendBox
        x={97}
        y={377}
        w={320}
        h={131}
        items={[
          { x1: 102, x2: 137, y: 396, tx: 148, color: RED, species: 'OH', temp: '275 K' },
          { x1: 102, x2: 137, y: 424, tx: 148, color: ORANGE, species: 'OH', temp: '300 K' },
          { x1: 102, x2: 137, y: 452, tx: 148, color: GREEN, species: 'OH', temp: '330 K' },
          { x1: 102, x2: 137, y: 479, tx: 148, color: BLUE, species: 'OH', temp: '370 K' },
          { x1: 270, x2: 302, y: 397, tx: 315, color: RED, dotted: true, species: 'H3O', temp: '275 K' },
          { x1: 270, x2: 302, y: 427, tx: 315, color: ORANGE, dotted: true, species: 'H3O', temp: '300 K' },
          { x1: 270, x2: 302, y: 459, tx: 315, color: GREEN, dotted: true, species: 'H3O', temp: '330 K' },
          { x1: 270, x2: 302, y: 491, tx: 315, color: BLUE, dotted: true, species: 'H3O', temp: '370 K' },
        ]}
      />
      <LegendBox
        x={97}
        y={842}
        w={216}
        h={48}
        items={[
          { x1: 102, x2: 137, y: 854, tx: 148, color: RED, temp: '275 K' },
          { x1: 102, x2: 137, y: 876, tx: 148, color: ORANGE, temp: '300 K' },
          { x1: 220, x2: 254, y: 854, tx: 265, color: GREEN, temp: '330 K' },
          { x1: 220, x2: 254, y: 876, tx: 265, color: BLUE, temp: '370 K' },
        ]}
      />
      <LegendBox
        x={745}
        y={79}
        w={99}
        h={71}
        items={[
          { x1: 751, x2: 785, y: 91, tx: 796, color: ORANGE, temp: '300 K' },
          { x1: 751, x2: 785, y: 113, tx: 796, color: GREEN, temp: '330 K' },
          { x1: 751, x2: 785, y: 135, tx: 796, color: BLUE, temp: '370 K' },
        ]}
      />
      <LegendBox
        x={745}
        y={375}
        w={320}
        h={98}
        items={[
          { x1: 751, x2: 785, y: 394, tx: 797, color: ORANGE, species: 'OH', temp: '300 K' },
          { x1: 751, x2: 785, y: 422, tx: 797, color: GREEN, species: 'OH', temp: '330 K' },
          { x1: 751, x2: 785, y: 449, tx: 797, color: BLUE, species: 'OH', temp: '370 K' },
          { x1: 918, x2: 950, y: 395, tx: 963, color: ORANGE, dotted: true, species: 'H3O', temp: '300 K' },
          { x1: 918, x2: 950, y: 426, tx: 963, color: GREEN, dotted: true, species: 'H3O', temp: '330 K' },
          { x1: 918, x2: 950, y: 457, tx: 963, color: BLUE, dotted: true, species: 'H3O', temp: '370 K' },
        ]}
      />
      <LegendBox
        x={745}
        y={842}
        w={216}
        h={47}
        items={[
          { x1: 751, x2: 785, y: 854, tx: 796, color: ORANGE, temp: '300 K' },
          { x1: 751, x2: 785, y: 876, tx: 796, color: GREEN, temp: '330 K' },
          { x1: 870, x2: 902, y: 854, tx: 914, color: BLUE, temp: '370 K' },
        ]}
      />

      {/* axis titles */}
      <VTitle x={25} y={330}>
        Ionic distribution (molecule/nm<sup style={{ fontSize: 14 }}>3</sup>)
      </VTitle>
      <VTitle x={25} y={771}>
        Net charge (e/nm<sup style={{ fontSize: 14 }}>3</sup>)
      </VTitle>
      <VTitle x={676} y={154}>Electric field (V/Å)</VTitle>
      <VTitle x={676} y={460}>Free energy (kcal/mol)</VTitle>
      <VTitle x={676} y={775}>Zeta potential ζ (mV)</VTitle>
      <Txt x={365} y={944} center color="#000" size={21}>Distance to interface  (Å)</Txt>
      <Txt x={1014} y={944} center color="#000" size={21}>Distance to interface  (Å)</Txt>
    </div>
  );
}
